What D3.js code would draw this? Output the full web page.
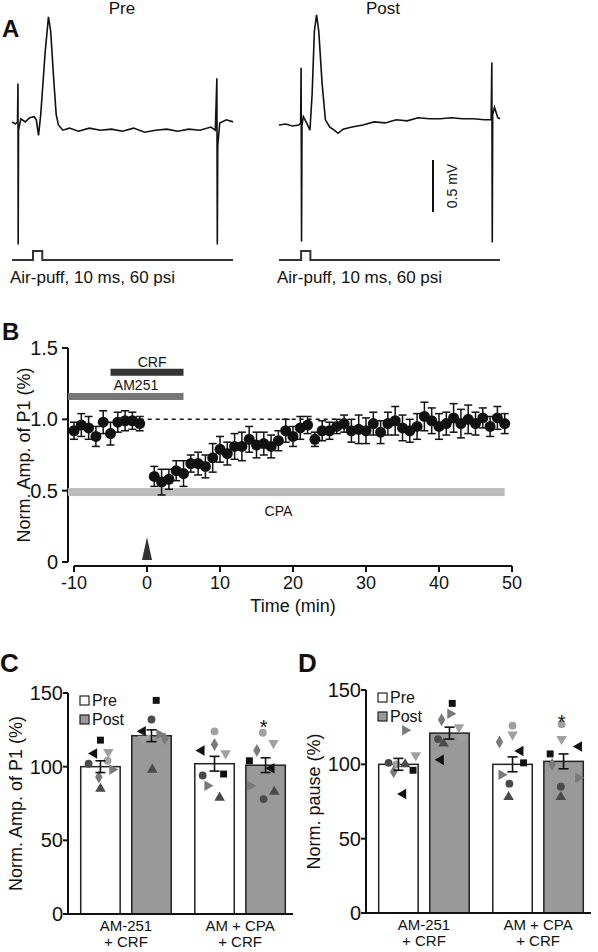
<!DOCTYPE html>
<html><head><meta charset="utf-8">
<script src="https://cdn.jsdelivr.net/npm/d3@7"></script>
<style>body{margin:0;background:#fff}text{font-family:"Liberation Sans",Arial,sans-serif;fill:#111}</style>
</head><body><svg id="c" width="598" height="952"></svg>
<script>
// ---------- DATA ----------
const preTrace = [[0,0.03],[1.5,0.01],[2.5,0.03],[2.7,0.4],[2.8,-1.15],[2.95,-0.05],[4,0.06],[6,0.03],[8,0.07],[10,0.08],[11,0.05],[12,-0.1],[13,0.1],[15,0.7],[16.5,1.04],[17.5,0.9],[19,0.4],[20,0.1],[21,0.0],[23,-0.05],[26,-0.03],[30,-0.06],[35,-0.03],[40,-0.05],[45,-0.04],[50,-0.06],[55,-0.03],[60,-0.07],[65,-0.05],[70,-0.04],[75,-0.06],[80,-0.04],[85,-0.05],[90,-0.02],[92,-0.05],[92.7,0.45],[92.9,-1.15],[93.1,-0.2],[94,0.02],[97,0.05],[100,0.03]];
const postTrace = [[0,0.0],[3,0.01],[6,-0.01],[9,0.0],[9.8,0.02],[10,0.55],[10.2,-1.12],[10.4,0.0],[11,0.08],[12.5,0.02],[14,-0.05],[15,0.3],[16,0.9],[17,1.06],[18,0.9],[19.5,0.4],[21,0.05],[23,-0.02],[25,-0.05],[26.7,-0.08],[29,-0.04],[33,-0.02],[38,0.0],[43,0.03],[48,0.02],[53,0.05],[58,0.04],[63,0.07],[68,0.06],[73,0.06],[78,0.07],[83,0.06],[88,0.06],[93,0.05],[96,0.05],[96.3,0.6],[96.5,-1.13],[96.7,0.1],[97.5,0.17],[99,0.07],[100,0.06]];
const timePre = [-10,-9,-8,-7,-6,-5,-4,-3,-2,-1];
const ampPre = [0.92,0.96,0.94,0.88,0.98,0.90,0.98,0.99,0.99,0.97];
const semPre = [0.06,0.08,0.08,0.07,0.08,0.08,0.07,0.07,0.06,0.05];
const timePost = d3.range(1,50);
const ampPost = [0.60,0.56,0.58,0.64,0.62,0.69,0.69,0.67,0.73,0.79,0.76,0.81,0.81,0.86,0.82,0.83,0.81,0.85,0.92,0.88,0.94,0.96,0.86,0.92,0.92,0.95,0.97,0.92,0.93,0.92,0.97,0.91,0.97,0.99,0.94,0.92,0.95,1.02,0.99,0.95,0.97,1.01,0.97,1.00,0.97,1.01,0.95,1.01,0.97];
const semPost = [0.07,0.09,0.07,0.07,0.09,0.06,0.08,0.08,0.1,0.09,0.08,0.09,0.1,0.09,0.09,0.08,0.08,0.07,0.08,0.07,0.08,0.06,0.05,0.07,0.06,0.05,0.06,0.08,0.1,0.09,0.08,0.08,0.08,0.1,0.09,0.08,0.09,0.1,0.09,0.09,0.08,0.1,0.1,0.1,0.08,0.07,0.07,0.08,0.07];
const bTicksY = [0,0.5,1.0,1.5], bTicksX = [-10,0,10,20,30,40,50];
const groups = ["Pre","Post","Pre","Post"];
const categories = [["AM-251","+ CRF"],["AM + CPA","+ CRF"]];
const meanC = [100,121,102,101], semC = [4,4,5,5];
const meanD = [100,121,100,102], semD = [4,4,5,5];
// [shape, shade, jitter, value]
const ptsC = [
 [["tl",0,-0.16,109],["c",1,-0.3,102],["s",0,0,118],["td",3,0.2,110],["c",3,0.18,104],["d",2,-0.04,93],["tr",2,0.3,98],["tu",1,0,85]],
 [["s",0,0.12,145],["c",1,0,132],["tl",0,-0.22,124],["td",3,-0.22,119],["c",3,-0.05,119],["tr",2,0.2,122],["d",2,0.34,119],["tu",1,0.02,98]],
 [["c",3,0,124],["d",2,0,115],["tl",0,-0.33,111],["td",3,0.28,109],["s",0,0.23,95],["c",1,-0.3,94],["tr",2,-0.18,87],["tu",1,0.13,79]],
 [["c",3,-0.07,123],["td",3,0.2,116],["d",2,-0.22,111],["s",0,-0.41,104],["tl",0,0.15,99],["tr",2,-0.39,87],["tu",1,0.22,83],["c",1,-0.05,78]]];
const ptsD = [
 [["c",1,-0.25,101],["c",3,-0.05,100],["d",2,-0.12,95],["tu",1,0.17,100],["tr",2,0.17,123],["td",3,0.44,106],["s",0,0.37,96],["tl",0,0.12,80]],
 [["s",0,0.07,141],["tr",2,0.02,134],["d",2,-0.2,130],["td",3,0.24,125],["c",3,0.32,118],["c",1,-0.29,117],["tu",1,-0.15,114],["tl",0,-0.22,103]],
 [["c",3,0,126],["td",3,0,120],["d",2,-0.33,115],["tl",0,0.2,109],["s",0,0.28,101],["tr",2,-0.28,93],["c",1,-0.08,87],["tu",1,-0.1,78]],
 [["c",3,-0.05,127],["td",3,-0.05,117],["tl",0,0.39,112],["s",0,-0.34,107],["d",2,-0.29,100],["tr",2,0.37,91],["c",1,-0.07,85],["tu",1,-0.07,78]]];
const barTicks = [0,50,100,150];
// ---------- DRAW ----------
const svg = d3.select("#c");
const shades = ["#111","#4a4a4a","#7a7a7a","#a0a0a0"];
function txt(x,y,s,size,opt={}){const t=svg.append("text").attr("x",x).attr("y",y).attr("font-size",size).text(s);
 if(opt.anchor)t.attr("text-anchor",opt.anchor); if(opt.bold)t.attr("font-weight","bold"); if(opt.rot)t.attr("transform",`rotate(-90,${x},${y})`); return t;}
// Panel A
function trace(data,x0,x1,art){
 const x=d3.scaleLinear([0,100],[x0,x1]), y=d3.scaleLinear([0,1],[125,21]);
 svg.append("path").attr("d",d3.line(d=>x(d[0]),d=>y(d[1]))(data)).attr("fill","none").attr("stroke","#111").attr("stroke-width",1.6);
 const sx=d3.scaleLinear([0,100],[x0,x1]);
 const stim=[[0,0],[art,0],[art,1],[art+4.2,1],[art+4.2,0],[100,0]];
 svg.append("path").attr("d",d3.line(d=>sx(d[0]),d=>260-d[1]*9)(stim)).attr("fill","none").attr("stroke","#333").attr("stroke-width",2);
 txt(x0-2,283,"Air-puff, 10 ms, 60 psi",17);
}
trace(preTrace,12,233,9.5); trace(postTrace,279,500,10);
txt(122,14,"Pre",17,{anchor:"middle"}); txt(383,14,"Post",17,{anchor:"middle"});
txt(2,37,"A",24,{bold:true});
svg.append("line").attr("x1",433).attr("x2",433).attr("y1",160).attr("y2",212).attr("stroke","#111").attr("stroke-width",2);
txt(457,186,"0.5 mV",14,{anchor:"middle",rot:true});
// Panel B
const bx=d3.scaleLinear([-10,50],[74,512]), by=d3.scaleLinear([0,1.5],[562,348]);
txt(2,340,"B",24,{bold:true});
svg.append("line").attr("x1",68).attr("x2",68).attr("y1",348).attr("y2",562).attr("stroke","#111").attr("stroke-width",2);
bTicksY.forEach(v=>{svg.append("line").attr("x1",62).attr("x2",68).attr("y1",by(v)).attr("y2",by(v)).attr("stroke","#111").attr("stroke-width",2);
 txt(58,by(v)+7,v===0?"0":v.toFixed(1),20,{anchor:"end"});});
svg.append("line").attr("x1",bx(-10)).attr("x2",bx(50)).attr("y1",566).attr("y2",566).attr("stroke","#111").attr("stroke-width",2);
bTicksX.forEach(v=>{svg.append("line").attr("x1",bx(v)).attr("x2",bx(v)).attr("y1",566).attr("y2",572).attr("stroke","#111").attr("stroke-width",2);
 txt(bx(v),589,v,18,{anchor:"middle"});});
txt(293,612,"Time (min)",18,{anchor:"middle"});
txt(30,455,"Norm. Amp. of P1 (%)",18,{anchor:"middle",rot:true});
svg.append("line").attr("x1",bx(-1)).attr("x2",bx(26)).attr("y1",by(1)).attr("y2",by(1)).attr("stroke","#111").attr("stroke-width",1.5).attr("stroke-dasharray","4,4");
svg.append("rect").attr("x",bx(-10)-6).attr("width",bx(49)-bx(-10)+6).attr("y",by(0.49)-4).attr("height",8).attr("fill","#bbb");
svg.append("rect").attr("x",bx(-10)-6).attr("width",bx(5)-bx(-10)+6).attr("y",by(1.16)-3.5).attr("height",7).attr("fill","#777");
svg.append("rect").attr("x",bx(-5)).attr("width",bx(5)-bx(-5)).attr("y",by(1.33)-3.5).attr("height",7).attr("fill","#333");
txt(bx(0.7),367,"CRF",14,{anchor:"middle"}); txt(bx(-1.5),390,"AM251",14,{anchor:"middle"}); txt(bx(18),516,"CPA",14,{anchor:"middle"});
svg.append("path").attr("d",`M${bx(0)-5},560L${bx(0)},537L${bx(0)+5},560Z`).attr("fill","#333");
const ptsB=timePre.map((t,i)=>[t,ampPre[i],semPre[i]]).concat(timePost.map((t,i)=>[t,ampPost[i],semPost[i]]));
ptsB.forEach(([t,v,s])=>{const g=svg.append("g").attr("stroke","#111").attr("stroke-width",1.5);
 g.append("line").attr("x1",bx(t)).attr("x2",bx(t)).attr("y1",by(v-s)).attr("y2",by(v+s));
 [v-s,v+s].forEach(e=>g.append("line").attr("x1",bx(t)-4).attr("x2",bx(t)+4).attr("y1",by(e)).attr("y2",by(e)));});
svg.selectAll(null).data(ptsB).join("circle").attr("cx",d=>bx(d[0])).attr("cy",d=>by(d[1])).attr("r",5.5).attr("fill","#111");
// Panels C/D
function symPath(sh){const size=48;
 if(sh==="s")return {p:d3.symbol(d3.symbolSquare,size)(),r:0};
 if(sh==="c")return {p:d3.symbol(d3.symbolCircle,size)(),r:0};
 if(sh==="d")return {p:d3.symbol(d3.symbolDiamond,size)(),r:0};
 const r={tu:0,td:180,tl:-90,tr:90}[sh]; return {p:d3.symbol(d3.symbolTriangle,size)(),r};}
function barPanel(x0,xEnd,y150,y0,letter,ylab,means,sems,pts,star){
 const y=d3.scaleLinear([0,150],[y0,y150]);
 const band=d3.scaleBand(d3.range(4),[x0+10,xEnd-8]).paddingInner(0.27).paddingOuter(0.05);
 const xs=[0,1,2,3].map(i=>band(i)+(i%2===1?-3:0)+(i>=2?6:0));
 txt(x0-68,672,letter,26,{bold:true});
 means.forEach((m,i)=>{svg.append("rect").attr("x",xs[i]).attr("width",band.bandwidth()).attr("y",y(m)).attr("height",y0-y(m))
  .attr("fill",i%2?"#999":"#fff").attr("stroke","#222").attr("stroke-width",1.5);});
 pts.forEach((grp,i)=>grp.forEach(([sh,c,j,v])=>{const s=symPath(sh);const cx=xs[i]+band.bandwidth()/2+j*band.bandwidth();
  svg.append("path").attr("d",s.p).attr("fill",shades[c]).attr("transform",`translate(${cx},${y(v)}) rotate(${s.r})`);}));
 means.forEach((m,i)=>{const cx=xs[i]+band.bandwidth()/2;const g=svg.append("g").attr("stroke","#111").attr("stroke-width",1.6);
  g.append("line").attr("x1",cx).attr("x2",cx).attr("y1",y(m-sems[i])).attr("y2",y(m+sems[i]));
  [m-sems[i],m+sems[i]].forEach(e=>g.append("line").attr("x1",cx-5).attr("x2",cx+5).attr("y1",y(e)).attr("y2",y(e)));});
 svg.append("line").attr("x1",x0).attr("x2",x0).attr("y1",y150).attr("y2",y0).attr("stroke","#111").attr("stroke-width",2);
 svg.append("line").attr("x1",x0-2).attr("x2",xEnd).attr("y1",y0).attr("y2",y0).attr("stroke","#111").attr("stroke-width",2);
 barTicks.forEach(v=>{svg.append("line").attr("x1",x0-5).attr("x2",x0).attr("y1",y(v)).attr("y2",y(v)).attr("stroke","#111").attr("stroke-width",2);
  txt(x0-5,y(v)+7,v,20,{anchor:"end"});});
 txt(x0-46,(y0+y150)/2,ylab,18,{anchor:"middle",rot:true});
 categories.forEach((c,k)=>{const cx=(xs[2*k]+xs[2*k+1]+band.bandwidth())/2;
  txt(cx,y0+17,c[0],15,{anchor:"middle"}); txt(cx,y0+33,c[1],15,{anchor:"middle"});});
 ["Pre","Post"].forEach((g,k)=>{svg.append("rect").attr("x",x0+12).attr("y",y150+3+k*19).attr("width",9).attr("height",9)
  .attr("fill",k?"#999":"#fff").attr("stroke","#222").attr("stroke-width",1.2); txt(x0+24,y150+13+k*19,g,16);});
 const cx=xs[3]+band.bandwidth()/2;
 txt(cx-2,y(star)+12,"*",20,{anchor:"middle"});
}
barPanel(68,293,693,914,"C","Norm. Amp. of P1 (%)",meanC,semC,ptsC,130);
barPanel(366,591,690,913,"D","Norm. pause (%)",meanD,semD,ptsD,132);
</script></body></html>
